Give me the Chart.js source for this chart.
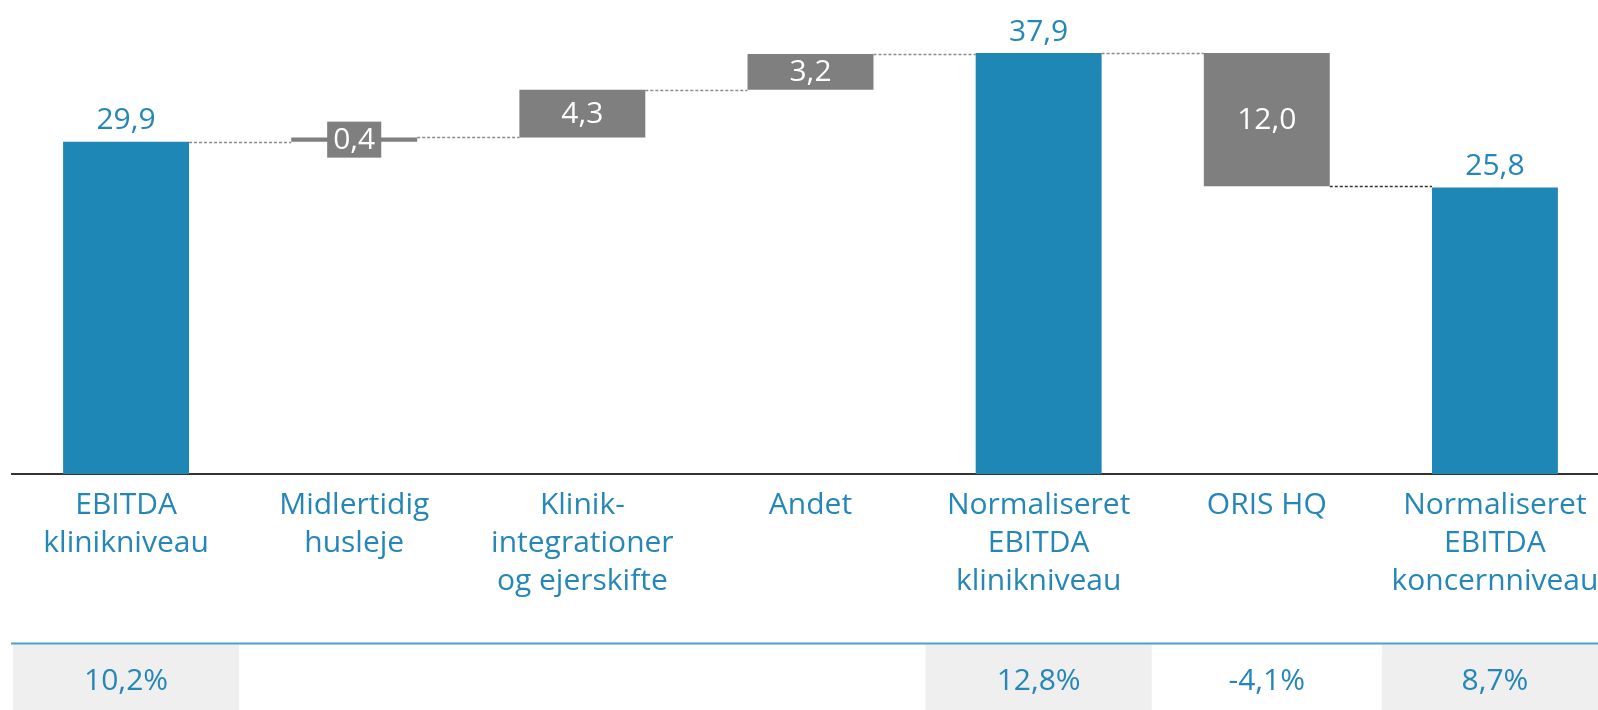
<!DOCTYPE html>
<html>
<head>
<meta charset="utf-8">
<script src="https://cdn.jsdelivr.net/npm/chart.js@4/dist/chart.umd.min.js"></script>
<style>
  html, body { margin: 0; padding: 0; background: #ffffff; overflow: hidden; }
  #wrap { width: 1598px; height: 710px; overflow: hidden; position: relative; }
  canvas { display: block; }
</style>
</head>
<body>
<div id="wrap"><canvas id="c" width="1612" height="710"></canvas></div>
<script>
const categories = [
  ['EBITDA', 'klinikniveau'],
  ['Midlertidig', 'husleje'],
  ['Klinik-', 'integrationer', 'og ejerskifte'],
  ['Andet'],
  ['Normaliseret', 'EBITDA', 'klinikniveau'],
  ['ORIS HQ'],
  ['Normaliseret', 'EBITDA', 'koncernniveau']
];
const values = [29.9, 0.4, 4.3, 3.2, 37.9, -12.0, 25.8];
const isTotal = [true, false, false, false, true, false, true];
const valueLabels = ['29,9', '0,4', '4,3', '3,2', '37,9', '12,0', '25,8'];
const marginLabels = ['10,2%', '', '', '', '12,8%', '-4,1%', '8,7%'];

const BLUE = '#1f87b5';
const GRAY = '#7f7f7f';
const TXT = '#2586b8';
const FONT = '"Open Sans"';

// waterfall ranges built from the values
let run = 0;
const ranges = values.map((v, i) => {
  if (isTotal[i]) { run = v; return [0, v]; }
  const s = run; run = Math.round((run + v) * 10) / 10; return [s, run];
});

const waterfallPlugin = {
  id: 'waterfall',
  afterDatasetsDraw(chart) {
    const ctx = chart.ctx;
    const meta = chart.getDatasetMeta(0);
    const ys = chart.scales.y, xs = chart.scales.x;
    ctx.save();
    // connectors
    ctx.setLineDash([3, 2]);
    ctx.lineWidth = 1.5;
    for (let i = 0; i < values.length - 1; i++) {
      const a = meta.data[i], b = meta.data[i + 1];
      const lvl = ranges[i][1];
      const y = Math.round(ys.getPixelForValue(lvl)) + 0.5;
      ctx.strokeStyle = i === 5 ? '#333333' : '#8a8a8a';
      ctx.beginPath();
      ctx.moveTo(a.x + a.width / 2, y);
      ctx.lineTo(b.x - b.width / 2, y);
      ctx.stroke();
    }
    ctx.setLineDash([]);
    // value labels
    ctx.font = '30px ' + FONT;
    ctx.textAlign = 'center';
    ctx.textBaseline = 'middle';
    for (let i = 0; i < values.length; i++) {
      const el = meta.data[i];
      const top = ys.getPixelForValue(Math.max(ranges[i][0], ranges[i][1]));
      const bot = ys.getPixelForValue(Math.min(ranges[i][0], ranges[i][1]));
      if (isTotal[i]) {
        ctx.fillStyle = TXT;
        ctx.fillText(valueLabels[i], el.x, top - 21);
      } else {
        const cy = (top + bot) / 2;
        if (bot - top < 30) {
          const w = ctx.measureText(valueLabels[i]).width + 12;
          ctx.fillStyle = GRAY;
          ctx.fillRect(el.x - w / 2, cy - 18, w, 36);
        }
        ctx.fillStyle = '#ffffff';
        ctx.fillText(valueLabels[i], el.x, cy + 1);
      }
    }
    // margin table
    const band = xs.getPixelForValue(1) - xs.getPixelForValue(0);
    const lineY = 643.5;
    for (let i = 0; i < values.length; i++) {
      const cx = xs.getPixelForValue(i);
      if (isTotal[i]) {
        ctx.fillStyle = '#efefef';
        ctx.fillRect(cx - band / 2 + 1, lineY + 1, band - 2, 710 - lineY);
      }
      if (marginLabels[i]) {
        ctx.fillStyle = TXT;
        ctx.fillText(marginLabels[i], cx, 681);
      }
    }
    ctx.strokeStyle = '#4b9fcf';
    ctx.lineWidth = 2;
    ctx.beginPath();
    ctx.moveTo(11, lineY);
    ctx.lineTo(chart.width, lineY);
    ctx.stroke();
    ctx.restore();
  }
};

new Chart(document.getElementById('c').getContext('2d'), {
  type: 'bar',
  data: {
    labels: categories,
    datasets: [{
      data: ranges,
      backgroundColor: isTotal.map(t => t ? BLUE : GRAY),
      barPercentage: 0.552,
      categoryPercentage: 1,
      borderSkipped: false,
      borderWidth: 0
    }]
  },
  options: {
    responsive: false,
    animation: false,
    layout: { padding: { left: 12, right: 3, top: 0, bottom: 0 } },
    plugins: { legend: { display: false }, tooltip: { enabled: false } },
    scales: {
      x: {
        grid: { display: false, drawTicks: false },
        border: { display: true, color: '#333333', width: 2 },
        ticks: {
          color: TXT,
          font: { family: FONT, size: 30, lineHeight: 1.257 },
          padding: 13,
          maxRotation: 0,
          autoSkip: false
        },
        afterFit(s) { s.height = 236; }
      },
      y: { display: false, min: 0, max: 42.67 }
    }
  },
  plugins: [waterfallPlugin]
});
</script>
</body>
</html>
